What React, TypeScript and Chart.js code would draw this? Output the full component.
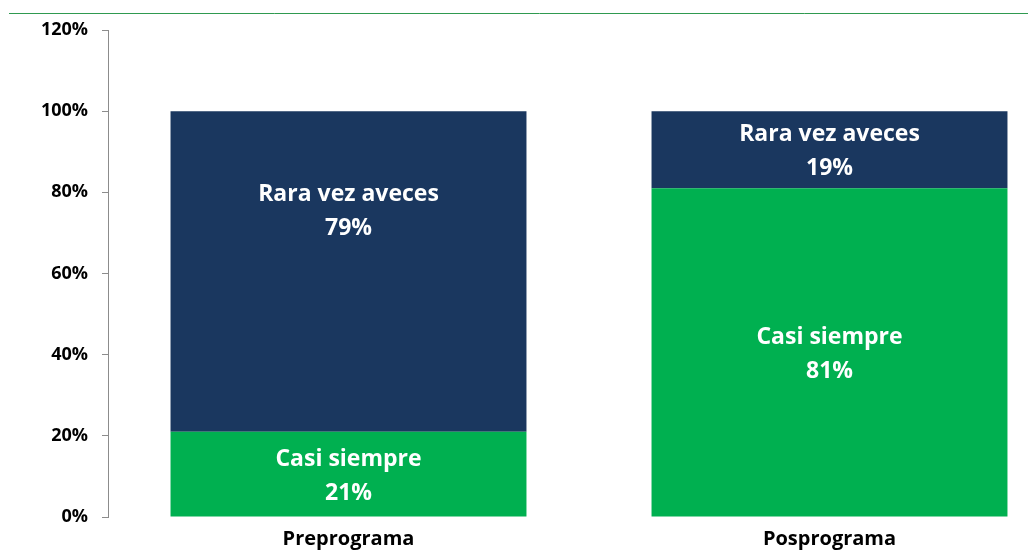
import React, { useEffect, useRef } from "react";
import { Chart, registerables } from "chart.js";

Chart.register(...registerables);

const categories = ["Preprograma", "Posprograma"];
const seriesNames = ["Casi siempre", "Rara vez aveces"];
const casiSiempre = [21, 81];
const raraVez = [79, 19];
const yTicks = [0, 20, 40, 60, 80, 100, 120];

const FONT = "'Open Sans', 'Liberation Sans', sans-serif";
const labelOffsets = [
  [2, 2],
  [-60, 2],
];

const labelPlugin = {
  id: "segLabels",
  afterDatasetsDraw(chart: any) {
    const ctx = chart.ctx;
    ctx.save();
    ctx.fillStyle = "#ffffff";
    ctx.font = `bold 23px ${FONT}`;
    ctx.textAlign = "center";
    ctx.textBaseline = "middle";
    chart.data.datasets.forEach((ds: any, di: number) => {
      const meta = chart.getDatasetMeta(di);
      meta.data.forEach((el: any, i: number) => {
        const cy = (el.y + el.base) / 2 + labelOffsets[di][i];
        ctx.fillText(ds.label, el.x, cy - 17);
        ctx.fillText(`${ds.data[i]}%`, el.x, cy + 17);
      });
    });
    ctx.restore();
  },
};

const topLinePlugin = {
  id: "topLine",
  beforeDraw(chart: any) {
    const ctx = chart.ctx;
    ctx.save();
    ctx.strokeStyle = "#2f9a50";
    ctx.lineWidth = 1;
    ctx.beginPath();
    ctx.moveTo(9, 13.5);
    ctx.lineTo(chart.width, 13.5);
    ctx.stroke();
    ctx.restore();
  },
};

export default function App() {
  const ref = useRef<HTMLCanvasElement>(null);
  useEffect(() => {
    if (!ref.current) return;
    const chart = new Chart(ref.current, {
      type: "bar",
      data: {
        labels: categories,
        datasets: [
          { label: seriesNames[0], data: casiSiempre, backgroundColor: "#00B050" },
          { label: seriesNames[1], data: raraVez, backgroundColor: "#1A375F" },
        ],
      },
      options: {
        responsive: false,
        animation: false,
        layout: { padding: { top: 30, right: 0, left: 0, bottom: 0 } },
        plugins: { legend: { display: false }, tooltip: { enabled: false } },
        datasets: { bar: { categoryPercentage: 0.74, barPercentage: 1 } },
        scales: {
          x: {
            stacked: true,
            grid: { display: false, drawTicks: false },
            border: { display: false },
            ticks: {
              color: "#000",
              font: { family: FONT, weight: "bold", size: 20 },
              padding: 10,
            },
            afterFit(s: any) {
              s.height = 33;
            },
          },
          y: {
            stacked: true,
            min: 0,
            max: 120,
            afterBuildTicks(s: any) {
              s.ticks = yTicks.map((v) => ({ value: v }));
            },
            grid: { drawOnChartArea: false, drawTicks: true, tickLength: 6, color: "#8c8c8c" },
            border: { display: true, color: "#8c8c8c", width: 1 },
            ticks: {
              color: "#000",
              font: { family: FONT, weight: "bold", size: 18 },
              padding: 14,
              callback: (v: any) => `${v}%`,
            },
            afterFit(s: any) {
              s.width = 108;
            },
          },
        },
      },
      plugins: [labelPlugin, topLinePlugin],
    });
    return () => chart.destroy();
  }, []);
  return (
    <div style={{ position: "fixed", left: 0, top: 0, width: 1028, height: 550, overflow: "hidden", background: "#fff" }}>
      <canvas ref={ref} width={1070} height={550} style={{ display: "block", width: 1070, height: 550 }} />
    </div>
  );
}
